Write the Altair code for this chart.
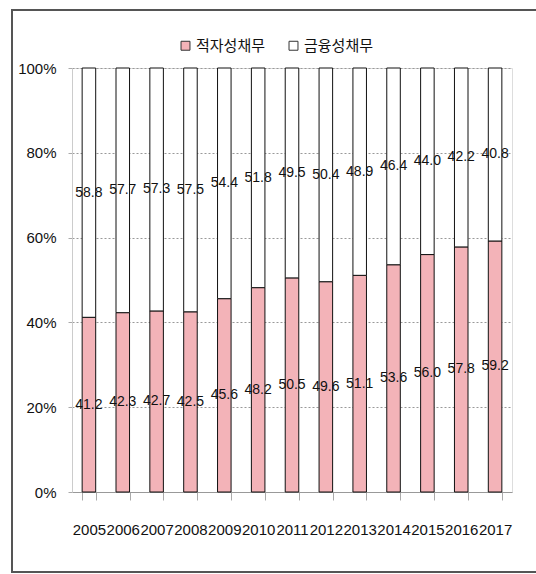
import altair as alt
import pandas as pd

years = ["2005", "2006", "2007", "2008", "2009", "2010", "2011",
         "2012", "2013", "2014", "2015", "2016", "2017"]
deficit = [41.2, 42.3, 42.7, 42.5, 45.6, 48.2, 50.5, 49.6, 51.1, 53.6, 56.0, 57.8, 59.2]
financial = [58.8, 57.7, 57.3, 57.5, 54.4, 51.8, 49.5, 50.4, 48.9, 46.4, 44.0, 42.2, 40.8]
series = ["적자성채무", "금융성채무"]
colors = ["#F3B3B8", "#FFFFFF"]

rows = []
for i, y in enumerate(years):
    rows.append({"year": y, "series": series[0], "order": 0, "value": deficit[i]})
    rows.append({"year": y, "series": series[1], "order": 1, "value": financial[i]})
df = pd.DataFrame(rows)

FONT = "Liberation Sans"
W, H = 440, 424

base = alt.Chart(df).transform_stack(
    stack="value", groupby=["year"], as_=["y0", "y1"],
    sort=[alt.SortField("order", "ascending")]
).transform_calculate(mid="(datum.y0 + datum.y1) / 2",
                      label="format(datum.value, '.1f')")

xenc = alt.X("year:N", title=None, sort=years,
             scale=alt.Scale(paddingInner=0.6, paddingOuter=0.3),
             axis=alt.Axis(labelAngle=0, labelFont=FONT, labelFontSize=15,
                           labelColor="#111", labelPadding=22, labelOverlap=False,
                           tickBand="extent", tickColor="#aaa", tickSize=8,
                           domainColor="#999", grid=False))

bars = base.mark_bar(stroke="#111", strokeWidth=1).encode(
    x=xenc,
    y=alt.Y("y0:Q", title=None,
            scale=alt.Scale(domain=[0, 100], nice=False),
            axis=alt.Axis(values=[0, 20, 40, 60, 80, 100],
                          labelExpr="datum.value + '%'",
                          labelFont=FONT, labelFontSize=15, labelColor="#111",
                          labelPadding=12, tickSize=4, tickColor="#aaa",
                          domainColor="#ccc", gridColor="#999",
                          gridDash=[2, 2], gridWidth=1)),
    y2="y1:Q",
    color=alt.Color("series:N", sort=series,
                    scale=alt.Scale(domain=series, range=colors),
                    legend=alt.Legend(title=None, orient="none", direction="horizontal",
                                      legendX=106, legendY=-30,
                                      symbolType="square", symbolSize=80,
                                      symbolStrokeColor="#333", symbolStrokeWidth=1,
                                      labelFont="Noto Sans CJK KR", labelFontSize=15,
                                      labelColor="#111", columnPadding=20,
                                      labelOffset=3)),
)

text = base.mark_text(font=FONT, fontSize=14, color="#111").encode(
    x=alt.X("year:N", sort=years),
    y=alt.Y("mid:Q"),
    text="label:N",
)

frame = alt.Chart(pd.DataFrame({"a": [0]})).mark_rect(
    fillOpacity=0, stroke="#555", strokeWidth=2
).encode(x=alt.value(-60), x2=alt.value(490), y=alt.value(-58), y2=alt.value(504))

chart = alt.layer(frame, bars, text).properties(
    width=W, height=H,
    autosize=alt.AutoSizeParams(type="none"),
    padding={"left": 72, "top": 68, "right": 24, "bottom": 82},
).configure_view(stroke=None).configure(background="white")

chart.save("out.html", embed_options={"renderer": "svg", "actions": False})
